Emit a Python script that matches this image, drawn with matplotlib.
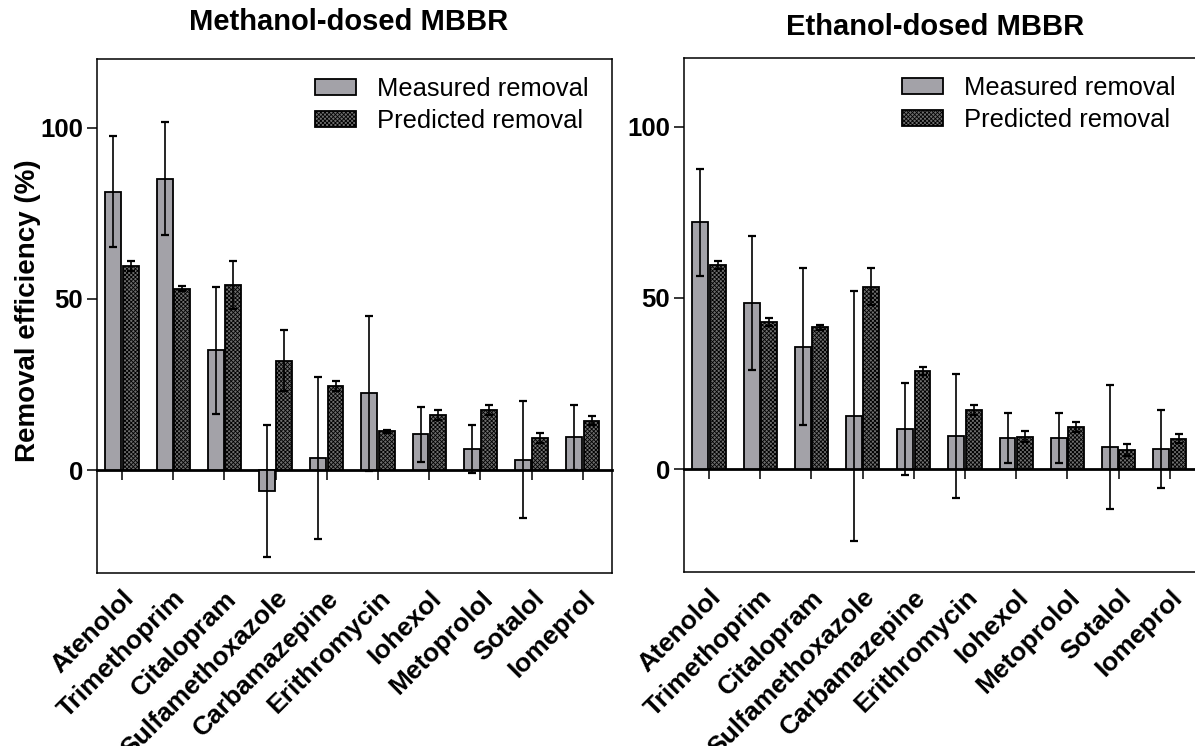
import matplotlib
matplotlib.use('Agg')
import matplotlib.pyplot as plt
import numpy as np

plt.rcParams['font.family'] = ['Liberation Sans', 'DejaVu Sans']
plt.rcParams['hatch.linewidth'] = 0.6

compounds = ['Atenolol', 'Trimethoprim', 'Citalopram', 'Sulfamethoxazole',
             'Carbamazepine', 'Erithromycin', 'Iohexol', 'Metoprolol',
             'Sotalol', 'Iomeprol']

# methanol-dosed MBBR
meoh_measured = [81.3, 85.1, 35.0, -6.0, 3.6, 22.4, 10.5, 6.2, 3.1, 9.6]
meoh_measured_err = [16.3, 16.6, 18.5, 19.2, 23.7, 22.6, 8.0, 7.0, 17.1, 9.4]
meoh_predicted = [59.6, 53.0, 54.1, 32.0, 24.6, 11.3, 16.1, 17.5, 9.4, 14.5]
meoh_predicted_err = [1.4, 0.7, 7.0, 9.0, 1.5, 0.3, 1.5, 1.5, 1.6, 1.3]

# ethanol-dosed MBBR
etoh_measured = [72.0, 48.5, 35.8, 15.5, 11.8, 9.8, 9.1, 9.1, 6.5, 6.0]
etoh_measured_err = [15.7, 19.6, 23.0, 36.5, 13.5, 18.1, 7.4, 7.2, 18.1, 11.4]
etoh_predicted = [59.6, 43.0, 41.4, 53.2, 28.7, 17.3, 9.5, 12.3, 5.6, 8.9]
etoh_predicted_err = [1.3, 1.1, 0.7, 5.4, 1.2, 1.4, 1.6, 1.5, 1.8, 1.4]

titles = ['Methanol-dosed MBBR', 'Ethanol-dosed MBBR']
legend_labels = ['Measured removal', 'Predicted removal']

W, H = 1195, 746
fig = plt.figure(figsize=(W / 100, H / 100), dpi=100)

ylo, yhi = -30, 120
x = np.arange(len(compounds))
bw = 0.31
off = 0.17


def panel(left_px, top_px, meas, meas_err, pred, pred_err, title, title_y):
    ax = fig.add_axes([left_px / W, 1 - (top_px + 514) / H, 515 / W, 514 / H])
    ekw = dict(elinewidth=1.2, capthick=1.6, ecolor='black')
    ax.bar(x - off, meas, bw, yerr=meas_err, color='#a3a2a8', edgecolor='black',
           linewidth=1.3, capsize=3.2, error_kw=ekw, label=legend_labels[0], zorder=2)
    ax.bar(x + off, pred, bw, yerr=pred_err, color='#6e6e6e', edgecolor='black',
           hatch='xxxxxxxx', linewidth=1.3, capsize=3.2, error_kw=ekw,
           label=legend_labels[1], zorder=2)
    ax.set_xlim(-0.49, 9.57)
    ax.set_ylim(ylo, yhi)
    ax.set_yticks([0, 50, 100])
    ax.tick_params(axis='y', length=7, width=1.1, pad=3, labelsize=18.5)
    for t in ax.get_yticklabels():
        t.set_fontweight('bold')
    ax.set_xticks(x)
    ax.set_xticklabels(compounds, rotation=45, ha='right', va='top',
                       rotation_mode='anchor', fontsize=19, fontweight='bold')
    ax.tick_params(axis='x', length=0, pad=9.5)
    for s in ax.spines.values():
        s.set_linewidth(1.1)

    # zero line with category ticks hanging below it
    zero = ax.secondary_xaxis((0 - ylo) / (yhi - ylo))
    zero.set_xticks(x)
    zero.tick_params(axis='x', length=7, width=1.1, labelbottom=False, labeltop=False)
    zero.spines['bottom'].set_linewidth(2.0)
    zero.spines['top'].set_visible(False)

    ax.legend(loc='upper right', bbox_to_anchor=(1 - 5 / 515, 1), frameon=False,
              fontsize=18.4, handlelength=1.6, handleheight=0.6,
              handletextpad=0.85, labelspacing=0.31, borderaxespad=0.3)
    cx = (left_px + 515 / 2) / W
    fig.text(cx - 6 / W, 1 - title_y / H, title, ha='center', va='center',
             fontsize=21, fontweight='bold')
    return ax


panel(97, 59, meoh_measured, meoh_measured_err, meoh_predicted,
      meoh_predicted_err, titles[0], 22)
panel(684, 58, etoh_measured, etoh_measured_err, etoh_predicted,
      etoh_predicted_err, titles[1], 27)

fig.text(28 / W, 1 - 311 / H, 'Removal efficiency (%)', rotation=90,
         ha='center', va='center', fontsize=20, fontweight='bold')

fig.savefig('out.png', dpi=100)
